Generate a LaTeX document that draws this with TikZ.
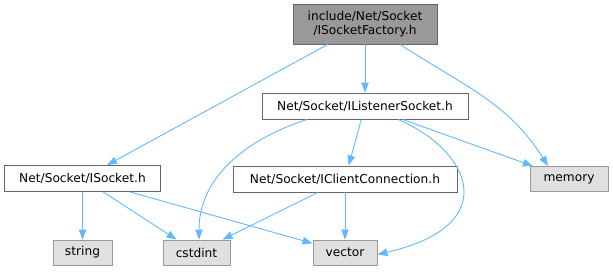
\documentclass[tikz,border=0pt]{standalone}
\usepackage{fontspec}
\setmainfont{DejaVu Sans}
\usetikzlibrary{arrows.meta}
\definecolor{edgec}{HTML}{63B8FF}
\definecolor{leaffill}{HTML}{E0E0E0}
\definecolor{leafdraw}{HTML}{999999}
\definecolor{topfill}{HTML}{999999}
\definecolor{boxdraw}{HTML}{666666}
\begin{document}
\begin{tikzpicture}[x=1pt,y=-1pt,
  every node/.style={font=\fontsize{12.2}{14.5}\selectfont, inner sep=0pt, align=center},
  filebox/.style={draw=boxdraw, fill=white, line width=0.9pt, minimum height=26pt},
  topbox/.style={draw=boxdraw, fill=topfill, line width=0.9pt, minimum height=40pt, minimum width=144pt},
  leafbox/.style={draw=leafdraw, fill=leaffill, line width=0.9pt, minimum height=25pt},
  dep/.style={draw=edgec, line width=0.9pt, -{Triangle[length=10pt,width=7.5pt]}}
]
\useasboundingbox (0,0) rectangle (613,271);
\node[topbox] (top) at (365,24) {include/Net/Socket\\/ISocketFactory.h};
\node[filebox, minimum width=206pt] (ils) at (365,106) {Net/Socket/IListenerSocket.h};
\node[filebox, minimum width=156pt] (isock) at (82.5,178.5) {Net/Socket/ISocket.h};
\node[filebox, minimum width=224pt] (icc) at (345,179) {Net/Socket/IClientConnection.h};
\node[leafbox, minimum width=78pt] (memory) at (569,179) {memory};
\node[leafbox, minimum width=59pt] (string) at (82.5,252.5) {string};
\node[leafbox, minimum width=67pt] (cstdint) at (196.5,252.5) {cstdint};
\node[leafbox, minimum width=64pt] (vector) at (345,252.5) {vector};

\draw[dep] (top) -- (isock);
\draw[dep] (top) -- (ils);
\draw[dep] ([xshift=35pt]top.south) to[out=-33, in=122] ([xshift=-21pt]memory.north);
\draw[dep] ([xshift=-58pt]ils.south) to[out=198, in=90] ([xshift=2.5pt]cstdint.north);
\draw[dep] (ils) -- (icc);
\draw[dep] (ils) -- (memory);
\draw[dep] ([xshift=33pt]ils.south) .. controls (470,150) and (505,225) .. ([yshift=-2pt]vector.east);
\draw[dep] (isock) -- (string);
\draw[dep] (isock) -- (cstdint);
\draw[dep] (isock) -- (vector);
\draw[dep] (icc) -- (cstdint);
\draw[dep] (icc) -- (vector);
\end{tikzpicture}
\end{document}
